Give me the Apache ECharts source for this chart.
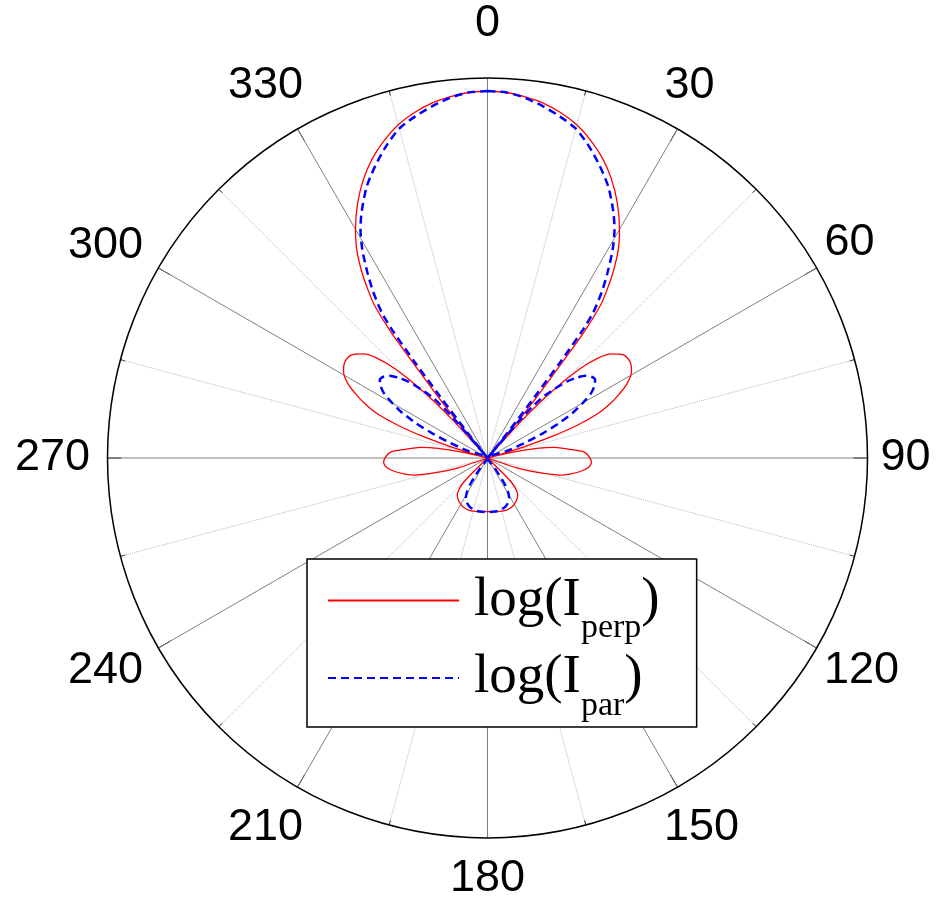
<!DOCTYPE html>
<html>
<head>
<meta charset="utf-8">
<script src="https://cdn.jsdelivr.net/npm/echarts@6/dist/echarts.min.js"></script>
<style>html,body{margin:0;padding:0;background:#fff}#c{width:938px;height:901px}</style>
</head>
<body>
<div id="c"></div>
<script>
// ---------- data ----------
const angleTicks = [0, 30, 60, 90, 120, 150, 180, 210, 240, 270, 300, 330];
const seriesNames = ['log(I_perp)', 'log(I_par)'];

const perpAngle = [0,3,6,9,12,15,18,21,24,27,30,32,34,35.5,36.5,37.5,38.3,39.3,40.3,41,41.5,42.5,44,46,48,50,53,56,59,62,64,66,68,70,71.5,73,74.5,75.3,76,77,79,81,84,86.5,89.5,92.5,95.5,98.5,101,103,105,107,108.7,110,133.5,134.5,135.5,138,141,145,150,155,160,165,170,175,180,
185,190,195,200,205,210,215,219,222,224.5,225.5,226.5,250,251.3,253,255,257,259,261.5,264.5,267.5,270.5,273.5,276,279,281,283,284,284.7,285.5,287,288.5,290,292,294,296,298,301,304,307,310,312,314,316,317.5,318.5,319,319.7,320.7,321.7,322.5,323.5,324.5,326,328,330,333,336,339,342,345,348,351,354,357,360];
const perpValue = [367,366,363,359,353,345,334,321,305,286,264,247,225,205,190,158,105,65,30,0,0,50,92,128,150,162,171,172,168,158,147,135,120,95,68,38,12,0,0,25,50,68,83,97,102,104,101,93,84,76,60,45,30,0,0,20,34,43,48,51,53.5,55,55.5,55,54.5,54,53.5,
54,54.5,55,55.5,55,53.5,51,48,43,34,20,0,0,30,45,60,76,84,93,101,104,102,97,83,68,50,25,0,0,12,38,68,95,120,135,147,158,168,172,171,162,150,128,92,50,0,0,30,65,105,158,190,205,225,247,264,286,305,321,334,345,353,359,363,366,367];

const parAngle = [0,3,6,9,12,15,18,21,24,27,29,31,33,34.5,36,36.7,37.2,37.6,38.2,38.8,39.3,40.5,42,44,46,48,50,52,54,56,58,60,62,64,66,68,70,71.5,143.5,144.6,146.4,149,151.6,155,160,165.5,170,175,180,
185,190,194.5,200,205,208.4,211,213.6,215.4,216.5,288.5,290,292,294,296,298,300,302,304,306,308,310,312,314,316,318,319.5,320.7,321.2,321.8,322.4,322.8,323.3,324,325.5,327,329,331,333,336,339,342,345,348,351,354,357,360];
const parValue = [367,366,362,356,349,341,328,313,297,277,262,243,220,202,180,158,120,78,38,0,0,50,80,95,110,120,128,132,133,129,122,110,97,80,60,40,20,0,0,14,30,40,45.5,49,52,53.4,54,54,54,
54,54,53.4,52,49,45.5,40,30,14,0,0,20,40,60,80,97,110,122,129,133,132,128,120,110,95,80,50,0,0,38,78,120,158,180,202,220,243,262,277,297,313,328,341,349,356,362,366,367];

// ---------- styling / layout ----------
const CX = 487.5, CY = 458, R = 380;
const sansFont = '"Liberation Sans", Arial, sans-serif';
const serifFont = '"Liberation Serif", "Times New Roman", serif';
const labelSize = 45;
// where each tick label's centre sits, relative to the polar centre (px)
const labelCentre = {
  0: [0, -434], 30: [202, -372], 60: [362, -215], 90: [418, 0],
  120: [374, 213], 150: [214, 370], 180: [0, 421], 210: [-222, 370],
  240: [-382, 213], 270: [-435, 0], 300: [-382, -212], 330: [-222, -372]
};

const mctx = document.createElement('canvas').getContext('2d');
mctx.font = labelSize + 'px ' + sansFont;
const labelRich = {};
angleTicks.forEach(function (v) {
  const th = v * Math.PI / 180;
  const ax = R * Math.sin(th), ay = -R * Math.cos(th);
  const c = labelCentre[v];
  const w = mctx.measureText(String(v)).width, h = labelSize;
  const hAlign = Math.abs(ax) / R < 0.3 ? 'center' : (ax > 0 ? 'left' : 'right');
  const vAlign = Math.abs(ay) / R < 0.3 ? 'middle' : (ay > 0 ? 'top' : 'bottom');
  let pl = 0, pr = 0, pt = 0, pb = 0;
  if (hAlign === 'left') pl = c[0] - w / 2 - ax;
  else if (hAlign === 'right') pr = ax - c[0] - w / 2;
  else { const d = 2 * (c[0] - ax); if (d > 0) pl = d; else pr = -d; }
  if (vAlign === 'top') pt = c[1] - ay - h / 2;
  else if (vAlign === 'bottom') pb = ay - c[1] - h / 2;
  else { const d = 2 * (c[1] - ay); if (d > 0) pt = d; else pb = -d; }
  labelRich['l' + v] = {
    fontSize: labelSize, fontFamily: sansFont, color: '#000',
    height: h, padding: [pt, pr, pb, pl]
  };
});

const chart = echarts.init(document.getElementById('c'), null, { renderer: 'canvas', width: 938, height: 901 });

chart.setOption({
  animation: false,
  backgroundColor: '#fff',
  polar: { center: [CX, CY], radius: R },
  angleAxis: {
    type: 'value', min: 0, max: 360, interval: 30,
    startAngle: 90, clockwise: true,
    axisLine: { show: true, lineStyle: { color: '#000', width: 1.5 } },
    axisTick: { show: true, inside: true, length: 14, lineStyle: { color: '#000', width: 1 } },
    minorTick: { show: true, splitNumber: 2, length: 5, lineStyle: { color: '#000', width: 1 } },
    axisLabel: {
      show: true, margin: 0,
      formatter: function (v) { return v === 360 ? '' : '{l' + v + '|' + v + '}'; },
      rich: labelRich
    },
    splitLine: { show: true, lineStyle: { color: '#808080', width: 1 } },
    minorSplitLine: { show: true, lineStyle: { color: '#b8b8b8', width: 1, type: 'dotted' } }
  },
  radiusAxis: {
    type: 'value', min: 0, max: 380,
    axisLine: { show: false }, axisTick: { show: false },
    axisLabel: { show: false }, splitLine: { show: false }
  },
  legend: {
    orient: 'vertical', left: 307, top: 559,
    padding: [14, 37, 4, 20], itemGap: 5,
    itemWidth: 131, itemHeight: 14,
    backgroundColor: '#fff', borderColor: '#000', borderWidth: 1.5, borderRadius: 0,
    selectedMode: false,
    itemStyle: { opacity: 0, borderWidth: 0 },
    data: seriesNames,
    formatter: function (name) {
      return name === seriesNames[0] ? '{a0|log(I}{s|perp}{a|)}' : '{a0|log(I}{s|par}{a|)}';
    },
    textStyle: {
      fontFamily: serifFont, fontSize: 55, color: '#000',
      rich: {
        a0: { fontFamily: serifFont, fontSize: 55, color: '#000', padding: [0, 0, 0, 10] },
        a: { fontFamily: serifFont, fontSize: 55, color: '#000' },
        s: { fontFamily: serifFont, fontSize: 34, color: '#000', height: 20, padding: [56, 0, 0, 0] }
      }
    }
  },
  series: [
    {
      name: seriesNames[0], type: 'line', coordinateSystem: 'polar',
      data: perpAngle.map(function (a, i) { return [perpValue[i], a]; }),
      symbol: 'none', smooth: 0.25, clip: false, z: 3,
      lineStyle: { color: '#ff0000', width: 1.3 }, itemStyle: { color: '#ff0000' }
    },
    {
      name: seriesNames[1], type: 'line', coordinateSystem: 'polar',
      data: parAngle.map(function (a, i) { return [parValue[i], a]; }),
      symbol: 'none', smooth: 0.25, clip: false, z: 4,
      lineStyle: { color: '#0000ff', width: 2.5, type: [8, 5] }, itemStyle: { color: '#0000ff' }
    }
  ]
});
</script>
</body>
</html>
